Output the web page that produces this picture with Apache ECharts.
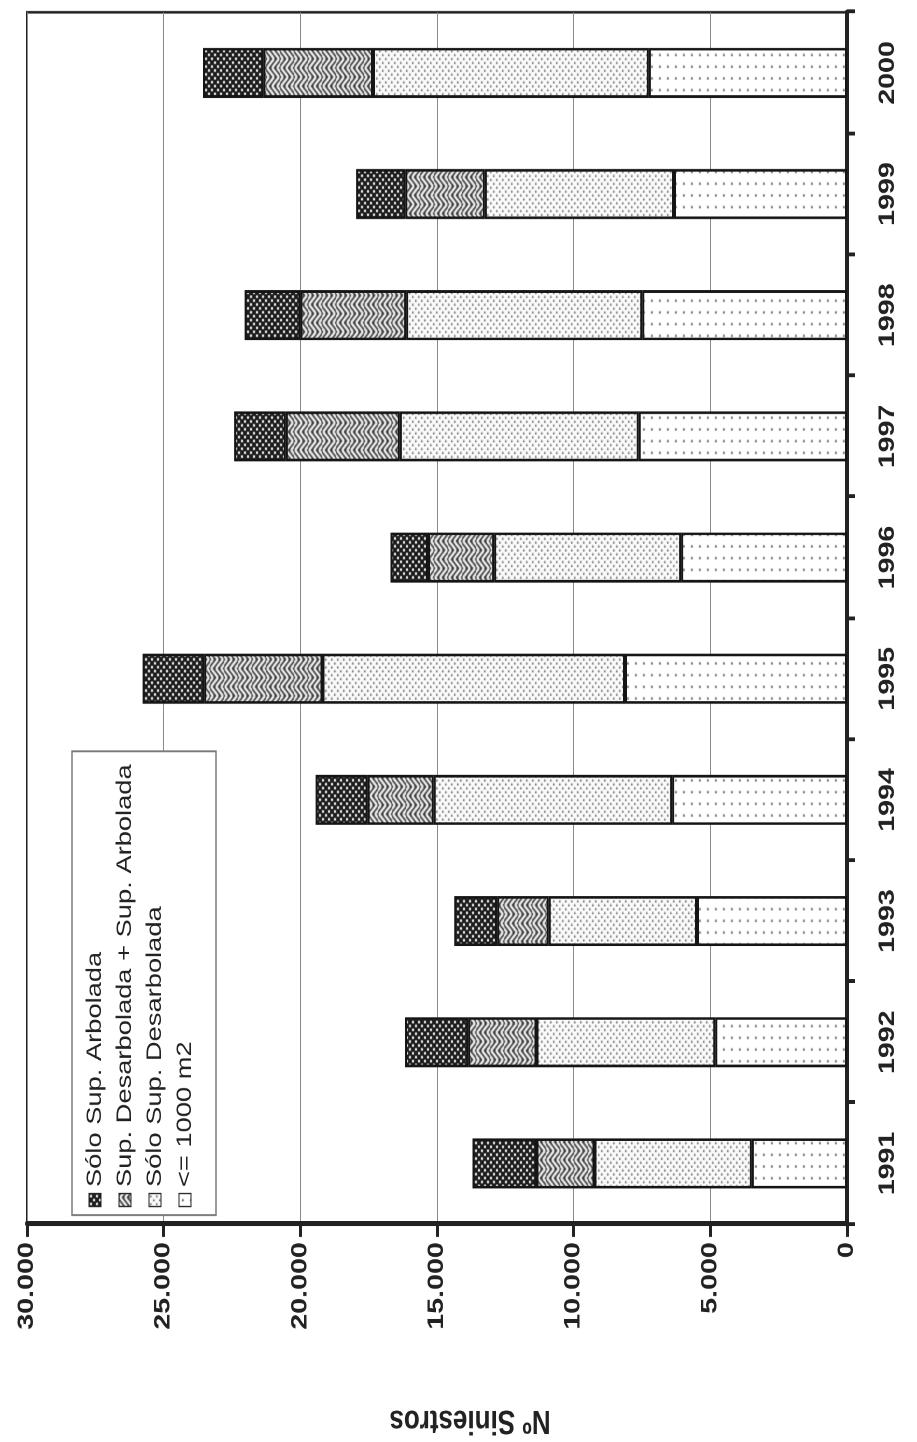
<!DOCTYPE html>
<html>
<head>
<meta charset="utf-8">
<script src="https://cdn.jsdelivr.net/npm/echarts@6/dist/echarts.min.js"></script>
<style>
html,body{margin:0;padding:0;background:#fff;overflow:hidden;width:917px;height:1442px;}
#wrap{position:absolute;left:0;top:0;height:917px;transform-origin:0 0;}
</style>
</head>
<body>
<div id="wrap"></div>
<script>
// ---- data ----
const years = ['1991','1992','1993','1994','1995','1996','1997','1998','1999','2000'];
const seriesNames = ['Sólo Sup. Arbolada','Sup. Desarbolada + Sup. Arbolada','Sólo Sup. Desarbolada','<= 1000 m2'];
const le1000 = [3480, 4820, 5490, 6400, 8120, 6070, 7620, 7490, 6330, 7250];
const soloDesarbolada = [5760, 6540, 5420, 8720, 11070, 6840, 8740, 8640, 6920, 10090];
const desarbMasArbolada = [2120, 2500, 1890, 2420, 4330, 2420, 4170, 3870, 2910, 4010];
const soloArbolada = [2340, 2310, 1570, 1900, 2250, 1370, 1890, 2040, 1800, 2210];
const valueTicks = [0, 5000, 10000, 15000, 20000, 25000, 30000];

// ---- layout: chart drawn upright, then rotated -90deg and stretched along its x ----
const S = 1.3;
const W0 = 1442 / S;
const wrap = document.getElementById('wrap');
wrap.style.width = W0 + 'px';
wrap.style.transform = 'translate(0px,1442px) rotate(-90deg) scale(' + S + ',1)';
function ux(pageY){ return (1442 - pageY) / S; }

function makePattern(w, h, draw){
  const c = document.createElement('canvas');
  c.width = w; c.height = h;
  draw(c.getContext('2d'), w, h);
  return c;
}
const patDark = makePattern(6, 6, (g) => {
  g.fillStyle = '#1c1c1c'; g.fillRect(0,0,6,6);
  g.fillStyle = '#f4f4f4'; g.fillRect(1,1,2,2); g.fillRect(4,4,2,2);
});
const patHerring = makePattern(14, 14, (g) => {
  g.fillStyle = '#333333'; g.fillRect(0,0,14,14);
  g.strokeStyle = '#f6f6f6'; g.lineWidth = 2;
  g.save(); g.beginPath(); g.rect(0,0,7,14); g.clip();
  for (let k = -14; k <= 21; k += 5){ g.beginPath(); g.moveTo(0, k + 7); g.lineTo(7, k); g.stroke(); }
  g.restore();
  g.save(); g.beginPath(); g.rect(7,0,7,14); g.clip();
  for (let k = -14; k <= 21; k += 5){ g.beginPath(); g.moveTo(7, k); g.lineTo(14, k + 7); g.stroke(); }
  g.restore();
});
const patDots = makePattern(6, 6, (g) => {
  g.fillStyle = '#fbfbfb'; g.fillRect(0,0,6,6);
  g.fillStyle = '#5e5e5e'; g.fillRect(1,1,1.5,1.5); g.fillRect(4,4,1.5,1.5);
});
const patSparse = makePattern(9, 8, (g) => {
  g.fillStyle = '#ffffff'; g.fillRect(0,0,9,8);
  g.fillStyle = '#5a5a5a'; g.fillRect(4,3,1.7,1.7);
});

const FONT = '"Liberation Sans", Arial, Helvetica, sans-serif';
function fmt(v){ return String(v).replace(/\B(?=(\d{3})+(?!\d))/g, '.'); }

const chart = echarts.init(wrap, null, {renderer:'canvas', devicePixelRatio:2});
function barSeries(name, data, pat){
  return {
    name: name, type: 'bar', stack: 'total', data: data,
    barWidth: 50 / S,
    itemStyle: { color: { image: pat, repeat: 'repeat' }, borderColor: '#151515', borderWidth: 2 },
    emphasis: { disabled: true }
  };
}
chart.setOption({
  animation: false,
  backgroundColor: '#ffffff',
  textStyle: { fontFamily: FONT },
  grid: {
    left: ux(1224), right: W0 - ux(12), top: 27, bottom: 917 - 847,
    show: true, borderColor: '#222', borderWidth: 2, backgroundColor: 'transparent'
  },
  legend: {
    orient: 'vertical',
    left: ux(1215), top: 72,
    data: seriesNames,
    icon: 'rect',
    itemWidth: 10, itemHeight: 12,
    itemGap: 8,
    padding: [12, 10, 20, 6],
    backgroundColor: '#ffffff',
    borderColor: '#7a7a7a', borderWidth: 1.5, borderRadius: 0,
    itemStyle: { borderWidth: 1, borderColor: '#222' },
    textStyle: { fontFamily: FONT, fontSize: 21, color: '#222', lineHeight: 22, padding: [0,0,0,0] },
    selectedMode: false
  },
  xAxis: {
    type: 'category',
    data: years,
    axisLine: { lineStyle: { color: '#222', width: 4 } },
    axisTick: { show: true, length: 8, lineStyle: { color: '#222', width: 3 } },
    axisLabel: { fontFamily: FONT, fontSize: 22, fontWeight: 'bold', color: '#222', margin: 30 },
    splitLine: { show: false }
  },
  yAxis: {
    type: 'value',
    min: 0, max: 30000, interval: 5000,
    axisLine: { show: true, lineStyle: { color: '#222', width: 4 } },
    axisTick: { show: true, length: 10, lineStyle: { color: '#222', width: 3 } },
    axisLabel: { fontFamily: FONT, fontSize: 22, fontWeight: 'bold', color: '#222', margin: 14,
      formatter: (v) => fmt(v) },
    splitLine: { show: true, lineStyle: { color: '#8a8a8a', width: 1 } }
  },
  graphic: [{
    type: 'text',
    x: ux(1420), y: 470,
    rotation: Math.PI / 2,
    style: { text: 'Nº Siniestros', font: 'bold 26px ' + FONT, fill: '#222', align: 'center', verticalAlign: 'middle' }
  }],
  series: [
    barSeries(seriesNames[3], le1000, patSparse),
    barSeries(seriesNames[2], soloDesarbolada, patDots),
    barSeries(seriesNames[1], desarbMasArbolada, patHerring),
    barSeries(seriesNames[0], soloArbolada, patDark)
  ]
});
</script>
</body>
</html>
